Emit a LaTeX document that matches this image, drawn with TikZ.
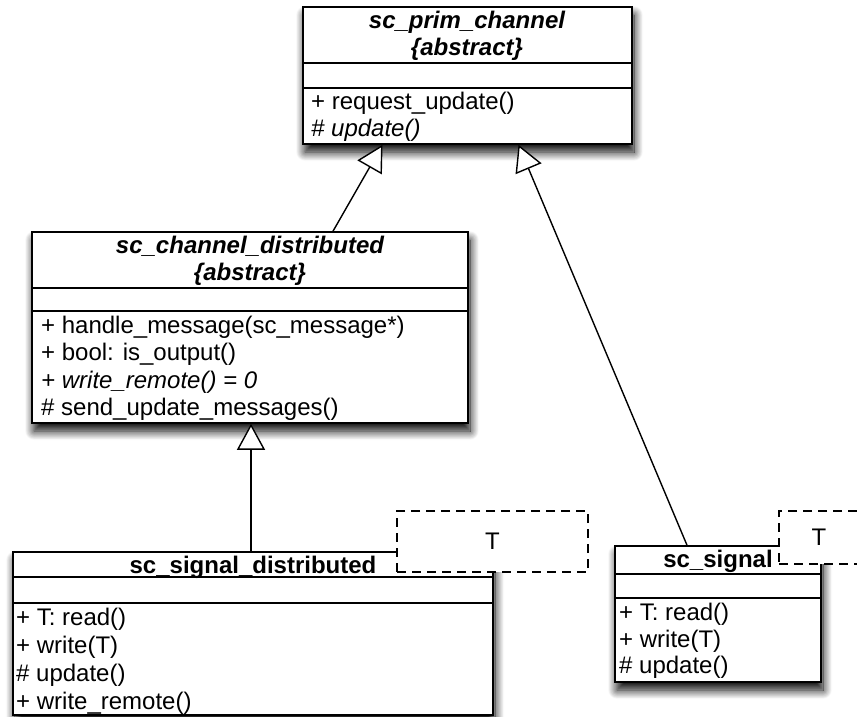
\documentclass[tikz,border=0pt]{standalone}
\usepackage{fontspec}
\setmainfont{Liberation Sans}
\usetikzlibrary{arrows.meta, shadows.blur}

\begin{document}
\begin{tikzpicture}[x=1pt, y=-1pt,
  font=\fontsize{24}{28}\selectfont,
  classbox/.style={draw=black, line width=1.6pt, fill=white, inner sep=0pt,
    blur shadow={shadow xshift=2pt, shadow yshift=-8pt, shadow blur radius=9pt,
      shadow blur steps=16, shadow opacity=100}},
  divider/.style={line width=1.3pt},
  member/.style={anchor=base west, inner sep=0pt},
  classname/.style={anchor=base, inner sep=0pt, font=\fontsize{24}{28}\selectfont\bfseries},
  tparam/.style={draw=black, fill=white, line width=1.4pt, dash pattern=on 9pt off 6pt, inner sep=0pt},
  inherit/.style={line width=1.4pt, -{Triangle[open, fill=white, length=26pt, width=28pt, line width=1.4pt]}}
]

\useasboundingbox (0,0) rectangle (857,717);

% class boxes
\node[classbox, minimum width=329pt, minimum height=137pt] (prim) at (467.5,75.5) {};
\node[classbox, minimum width=436pt, minimum height=191pt] (dist) at (250,327.5) {};
\node[classbox, minimum width=480pt, minimum height=163pt] (sigdist) at (253,633.5) {};
\node[classbox, minimum width=206pt, minimum height=136pt] (sig) at (718,614) {};

% compartments
\foreach \cls/\y in {prim/63, prim/88, dist/288, dist/311, sigdist/577, sigdist/603, sig/574, sig/598} {
  \draw[divider] (\cls.west |- 0,\y) -- (\cls.east |- 0,\y);
}

% sc_prim_channel
\node[classname] (primname) at (467,29) {\itshape sc\_prim\_channel};
\node[classname] (primabs) at (467,56) {\itshape\{abstract\}};
\foreach \y/\txt [count=\i] in {110/+ request\_update(), 136/{\itshape\# update()}} {
  \node[member] (primop\i) at (311,\y) {\txt};
}

% sc_channel_distributed
\node[classname] (distname) at (250,253) {\itshape sc\_channel\_distributed};
\node[classname] (distabs) at (250,280) {\itshape\{abstract\}};
\foreach \y/\txt [count=\i] in {
    333/+ handle\_message(sc\_message*),
    360/+ bool: is\_output(),
    388/{\itshape + write\_remote() = 0},
    415/\# send\_update\_messages()} {
  \node[member] (distop\i) at (41,\y) {\txt};
}

% sc_signal_distributed
\node[classname] (sigdistname) at (253,573) {sc\_signal\_distributed};
\foreach \y/\txt [count=\i] in {625/+ T: read(), 653/+ write(T), 681/\# update(), 709/+ write\_remote()} {
  \node[member] (sigdistop\i) at (16,\y) {\txt};
}

% sc_signal
\node[classname] (signame) at (718,567) {sc\_signal};
\foreach \y/\txt [count=\i] in {620/+ T: read(), 647/+ write(T), 673/\# update()} {
  \node[member] (sigop\i) at (619,\y) {\txt};
}

% template parameters
\node[tparam, minimum width=191pt, minimum height=61pt] (sigdistT) at (492.5,541.5) {T};
\node[tparam, minimum width=80pt, minimum height=53pt] (sigT) at (819,537.5) {T};

% generalisations
\draw[inherit] ([xshift=83pt]dist.north) -- ([xshift=-85pt]prim.south);
\draw[inherit] ([xshift=-31pt]sig.north) -- ([xshift=51pt]prim.south);
\draw[inherit] ([xshift=-2pt]sigdist.north) -- ([xshift=1pt]dist.south);

\end{tikzpicture}
\end{document}
